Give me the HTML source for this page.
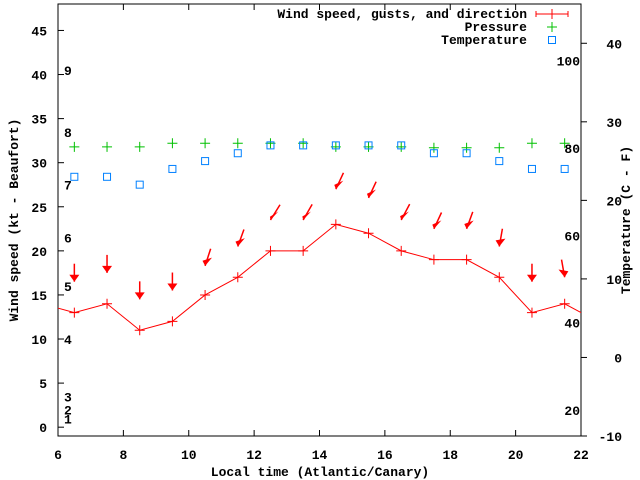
<!DOCTYPE html>
<html><head><meta charset="utf-8"><style>
body{margin:0;background:#fff}
svg{display:block;font-family:"Liberation Mono",monospace;font-size:13px;font-weight:bold}
</style></head><body>
<svg id="chart" width="640" height="480" viewBox="0 0 640 480" xmlns="http://www.w3.org/2000/svg"></svg>
<script>
const hours = [6.5,7.5,8.5,9.5,10.5,11.5,12.5,13.5,14.5,15.5,16.5,17.5,18.5,19.5,20.5,21.5];
const windSpeed = [13,14,11,12,15,17,20,20,23,22,20,19,19,17,13,14];
const windEdgeBefore = 14, windEdgeAfter = 12;
const gusts = [16.5,17.5,14.5,15.5,18.3,20.5,23.5,23.5,27,26,23.5,22.5,22.5,20.5,16.5,17];
const windDirDeg = [0,0,0,0,18,20,32,30,25,25,28,25,20,10,0,-10];
const pressure = [31.8,31.8,31.8,32.2,32.2,32.2,32.2,32.2,31.8,31.8,31.8,31.7,31.7,31.7,32.2,32.2];
const temperature = [23,23,22,24,25,26,27,27,27,27,27,26,26,25,24,24];
const xTicks = [6,8,10,12,14,16,18,20,22];
const yTicks = [0,5,10,15,20,25,30,35,40,45];
const y2Ticks = [-10,0,10,20,30,40];
const beaufort = [[1,1],[2,2],[3,3.5],[4,10],[5,16],[6,21.5],[7,27.5],[8,33.5],[9,40.5]];
const fahrenheit = [20,40,60,80,100];

const L=58,R=581,T=4,B=436;
const X=t=>L+(t-6)*(R-L)/16;
const Y=v=>B-(v+1)*(B-T)/49;
const Y2=v=>B-(v+10)*(B-T)/55;
const svg=document.getElementById('chart');
const NS='http://www.w3.org/2000/svg';
function mk(tag,attrs,parent){const e=document.createElementNS(NS,tag);for(const k in attrs)e.setAttribute(k,attrs[k]);(parent||svg).appendChild(e);return e;}
function txt(x,y,s,anchor,fill){const e=mk('text',{x:x,y:y,'text-anchor':anchor||'start',fill:fill||'#000'});e.textContent=s;return e;}

// frame
const frame=mk('rect',{x:L,y:T,width:R-L,height:B-T,fill:'none',stroke:'#000','stroke-width':1});



xTicks.forEach(t=>{
  const g=mk('g',{});
  
  
  mk('line',{x1:X(t),x2:X(t),y1:B,y2:B-6,stroke:'#000'},g);
  mk('line',{x1:X(t),x2:X(t),y1:T,y2:T+6,stroke:'#000'},g);
  const e=txt(X(t),459,String(t),'middle');g.appendChild(e);
});
yTicks.forEach(v=>{
  const g=mk('g',{});
  
  
  mk('line',{x1:L,x2:L+6,y1:Y(v),y2:Y(v),stroke:'#000'},g);
  const e=txt(47,Y(v)+5,String(v),'end');g.appendChild(e);
});
y2Ticks.forEach(v=>{
  const g=mk('g',{});
  
  
  mk('line',{x1:R,x2:R+6,y1:Y2(v),y2:Y2(v),stroke:'#000'},g);
  const e=txt(622,Y2(v)+5,String(v),'end');g.appendChild(e);
});
beaufort.forEach(b=>{
  const e=txt(64,Y(b[1])+5,String(b[0]));
  
  
});
fahrenheit.forEach(f=>{
  const c=(f-32)*5/9;
  const e=txt(580,Y2(c)+5,String(f),'end');
  
  
});

// titles
let e=txt(320,476,'Local time (Atlantic/Canary)','middle');


e=txt(0,0,'Wind speed (kt - Beaufort)','middle');
e.setAttribute('transform','translate(18,220) rotate(-90)');


e=txt(0,0,'Temperature (C - F)','middle');
e.setAttribute('transform','translate(630,220) rotate(-90)');



// clip
const defs=mk('defs',{});
const cp=mk('clipPath',{id:'clip'},defs);
mk('rect',{x:L,y:T,width:R-L,height:B-T},cp);
const plot=mk('g',{'clip-path':'url(#clip)'});

// wind line
const pts=[[5.5,windEdgeBefore]].concat(hours.map((h,i)=>[h,windSpeed[i]])).concat([[22.5,windEdgeAfter]]);
const wl=mk('polyline',{points:pts.map(p=>X(p[0])+','+Y(p[1])).join(' '),fill:'none',stroke:'#f00','stroke-width':1},plot);


hours.forEach((h,i)=>{
  const x=X(h),y=Y(windSpeed[i]);
  const p=mk('path',{d:`M${x-5},${y}H${x+5}M${x},${y-5}V${y+5}`,stroke:'#f00'},plot);
  
  
});
// gust arrows
hours.forEach((h,i)=>{
  const x=X(h),y=Y(gusts[i]);const a=windDirDeg[i]*Math.PI/180;const len=18;
  const dx=Math.sin(a),dy=Math.cos(a);
  const tx=x+dx*len,ty=y-dy*len;
  const g=mk('g',{},plot);
  
  
  mk('line',{x1:tx,y1:ty,x2:x,y2:y,stroke:'#f00','stroke-width':1.5},g);
  const px=-dy,py=-dx; // perpendicular
  const bx=x+dx*7,by=y-dy*7;
  mk('polygon',{points:`${x},${y} ${bx+px*5},${by+py*5*-1} ${bx-px*5},${by-py*5*-1}`.replace(/NaN/g,0),fill:'#f00'},g);
});
// pressure
hours.forEach((h,i)=>{
  const x=X(h),y=Y(pressure[i]);
  const p=mk('path',{d:`M${x-5},${y}H${x+5}M${x},${y-5}V${y+5}`,stroke:'#00c000'},plot);
  
  
});
// temperature
hours.forEach((h,i)=>{
  const x=X(h),y=Y2(temperature[i]);
  const r=mk('rect',{x:x-3.5,y:y-3.5,width:7,height:7,fill:'none',stroke:'#0080ff','stroke-width':1},plot);
  
  
});

// legend
const lg=mk('g',{});


let t1=txt(527,18,'Wind speed, gusts, and direction','end');lg.appendChild(t1);
let t2=txt(527,31,'Pressure','end');lg.appendChild(t2);
let t3=txt(527,44,'Temperature','end');lg.appendChild(t3);
mk('path',{d:'M536,14H568M536,11V17M568,11V17M552,9V19',stroke:'#f00'},lg);
mk('path',{d:'M547,27H557M552,22V32',stroke:'#00c000'},lg);
mk('rect',{x:548.5,y:36.5,width:7,height:7,fill:'none',stroke:'#0080ff'},lg);
</script>
</body></html>
